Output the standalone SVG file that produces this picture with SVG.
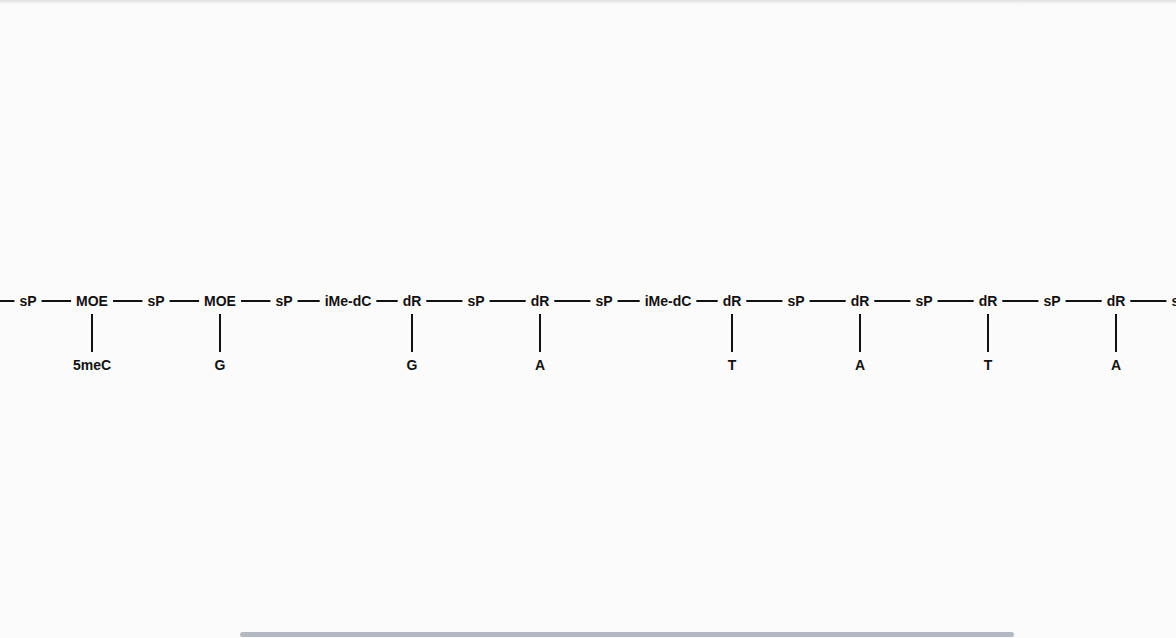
<svg xmlns="http://www.w3.org/2000/svg" width="1176" height="638" viewBox="0 0 1176 638">
<defs>
<style>
.lbl{font-family:"Liberation Sans",Arial,sans-serif;font-size:14px;font-weight:bold;fill:#111;text-anchor:middle}
.bond{stroke:#111;stroke-width:2;fill:none}
</style>
<linearGradient id="topShade" x1="0" y1="0" x2="0" y2="1">
<stop offset="0" stop-color="#d8d8de" stop-opacity="0.9"/>
<stop offset="1" stop-color="#fbfbfb" stop-opacity="0"/>
</linearGradient>
</defs>
<rect width="1176" height="638" fill="#fbfbfb"/>
<rect x="0" y="0" width="1176" height="6" fill="url(#topShade)"/>
<rect x="240" y="632" width="774" height="5" rx="2.5" fill="#b3b8c1"/>
<g id="connectors" class="bond">
<line x1="0" y1="301" x2="14.4" y2="301"/>
<line x1="41.6" y1="301" x2="71.1" y2="301"/>
<line x1="113" y1="301" x2="142.4" y2="301"/>
<line x1="169.6" y1="301" x2="199.1" y2="301"/>
<line x1="241" y1="301" x2="270.4" y2="301"/>
<line x1="297.6" y1="301" x2="319.7" y2="301"/>
<line x1="376.3" y1="301" x2="397.7" y2="301"/>
<line x1="426.3" y1="301" x2="462.4" y2="301"/>
<line x1="489.6" y1="301" x2="525.7" y2="301"/>
<line x1="554.3" y1="301" x2="590.4" y2="301"/>
<line x1="617.6" y1="301" x2="639.7" y2="301"/>
<line x1="696.3" y1="301" x2="717.7" y2="301"/>
<line x1="746.3" y1="301" x2="782.4" y2="301"/>
<line x1="809.6" y1="301" x2="845.7" y2="301"/>
<line x1="874.3" y1="301" x2="910.4" y2="301"/>
<line x1="937.6" y1="301" x2="973.7" y2="301"/>
<line x1="1002.3" y1="301" x2="1038.4" y2="301"/>
<line x1="1065.6" y1="301" x2="1101.7" y2="301"/>
<line x1="1130.3" y1="301" x2="1166.4" y2="301"/>
<line x1="92" y1="314" x2="92" y2="352"/>
<line x1="220" y1="314" x2="220" y2="352"/>
<line x1="412" y1="314" x2="412" y2="352"/>
<line x1="540" y1="314" x2="540" y2="352"/>
<line x1="732" y1="314" x2="732" y2="352"/>
<line x1="860" y1="314" x2="860" y2="352"/>
<line x1="988" y1="314" x2="988" y2="352"/>
<line x1="1116" y1="314" x2="1116" y2="352"/>
</g>
<g id="n1"><text class="lbl" x="28" y="306">sP</text></g>
<g id="n2"><text class="lbl" x="92" y="306">MOE</text></g>
<g id="n3"><text class="lbl" x="156" y="306">sP</text></g>
<g id="n4"><text class="lbl" x="220" y="306">MOE</text></g>
<g id="n5"><text class="lbl" x="284" y="306">sP</text></g>
<g id="n6"><text class="lbl" x="348" y="306">iMe-dC</text></g>
<g id="n7"><text class="lbl" x="412" y="306">dR</text></g>
<g id="n8"><text class="lbl" x="476" y="306">sP</text></g>
<g id="n9"><text class="lbl" x="540" y="306">dR</text></g>
<g id="n10"><text class="lbl" x="604" y="306">sP</text></g>
<g id="n11"><text class="lbl" x="668" y="306">iMe-dC</text></g>
<g id="n12"><text class="lbl" x="732" y="306">dR</text></g>
<g id="n13"><text class="lbl" x="796" y="306">sP</text></g>
<g id="n14"><text class="lbl" x="860" y="306">dR</text></g>
<g id="n15"><text class="lbl" x="924" y="306">sP</text></g>
<g id="n16"><text class="lbl" x="988" y="306">dR</text></g>
<g id="n17"><text class="lbl" x="1052" y="306">sP</text></g>
<g id="n18"><text class="lbl" x="1116" y="306">dR</text></g>
<g id="n19"><text class="lbl" x="1180" y="306">sP</text></g>
<g id="b2"><text class="lbl" x="92" y="370">5meC</text></g>
<g id="b4"><text class="lbl" x="220" y="370">G</text></g>
<g id="b7"><text class="lbl" x="412" y="370">G</text></g>
<g id="b9"><text class="lbl" x="540" y="370">A</text></g>
<g id="b12"><text class="lbl" x="732" y="370">T</text></g>
<g id="b14"><text class="lbl" x="860" y="370">A</text></g>
<g id="b16"><text class="lbl" x="988" y="370">T</text></g>
<g id="b18"><text class="lbl" x="1116" y="370">A</text></g>
</svg>
